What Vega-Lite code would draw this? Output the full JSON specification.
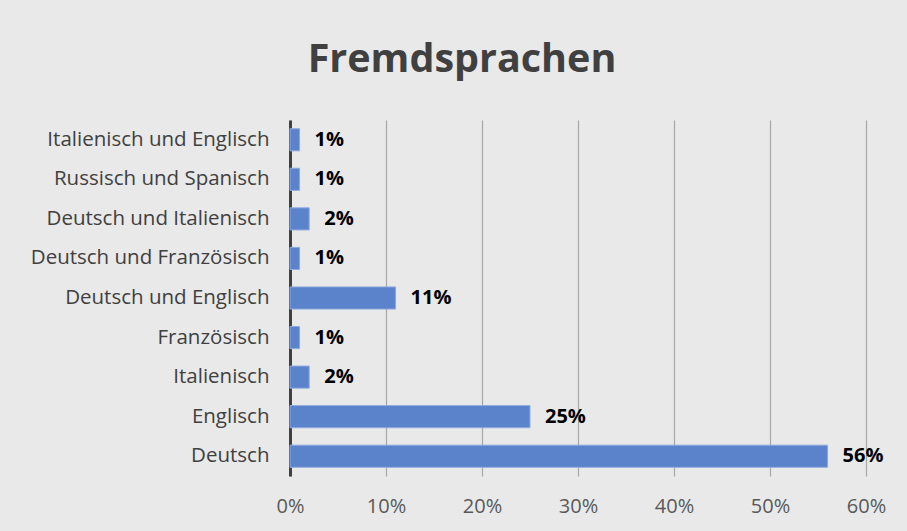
{
  "$schema": "https://vega.github.io/schema/vega-lite/v6.json",
  "autosize": "none",
  "width": 576,
  "height": 356,
  "padding": {"left": 290, "top": 120, "right": 41, "bottom": 55},
  "background": "#e9e9e9",
  "config": {"view": {"stroke": null}, "font": "Open Sans"},
  "title": {
    "text": "Fremdsprachen",
    "fontSize": 39.5,
    "fontWeight": "bold",
    "color": "#404040",
    "font": "Open Sans",
    "anchor": "middle",
    "dx": -116,
    "offset": 40
  },
  "data": {
    "values": [
      {"sprache": "Italienisch und Englisch", "anteil": 0.01},
      {"sprache": "Russisch und Spanisch", "anteil": 0.01},
      {"sprache": "Deutsch und Italienisch", "anteil": 0.02},
      {"sprache": "Deutsch und Französisch", "anteil": 0.01},
      {"sprache": "Deutsch und Englisch", "anteil": 0.11},
      {"sprache": "Französisch ", "anteil": 0.01},
      {"sprache": "Italienisch", "anteil": 0.02},
      {"sprache": "Englisch", "anteil": 0.25},
      {"sprache": "Deutsch", "anteil": 0.56}
    ]
  },
  "encoding": {
    "y": {
      "field": "sprache",
      "type": "nominal",
      "sort": null,
      "scale": {"paddingInner": 0.44, "paddingOuter": 0.22},
      "axis": {
        "title": null,
        "ticks": false,
        "domainColor": "#404040",
        "domainWidth": 3,
        "labelFontSize": 20.5,
        "labelColor": "#404040",
        "labelPadding": 21,
        "labelLimit": 400
      }
    },
    "x": {
      "field": "anteil",
      "type": "quantitative",
      "scale": {"domain": [0, 0.6], "nice": false},
      "axis": {
        "title": null,
        "format": ".0%",
        "values": [0, 0.1, 0.2, 0.3, 0.4, 0.5, 0.6],
        "domain": false,
        "ticks": false,
        "labelFlush": false,
        "gridColor": "#a6a6a6",
        "gridWidth": 1.2,
        "labelFontSize": 20,
        "labelColor": "#595959",
        "labelPadding": 20
      }
    }
  },
  "layer": [
    {
      "mark": {"type": "bar", "color": "#5b83cc", "stroke": "#8fabe0", "strokeWidth": 1}
    },
    {
      "mark": {"type": "text", "align": "left", "dx": 15, "fontSize": 20, "fontWeight": "bold", "color": "#000000"},
      "encoding": {"text": {"field": "anteil", "type": "quantitative", "format": ".0%"}}
    }
  ]
}
